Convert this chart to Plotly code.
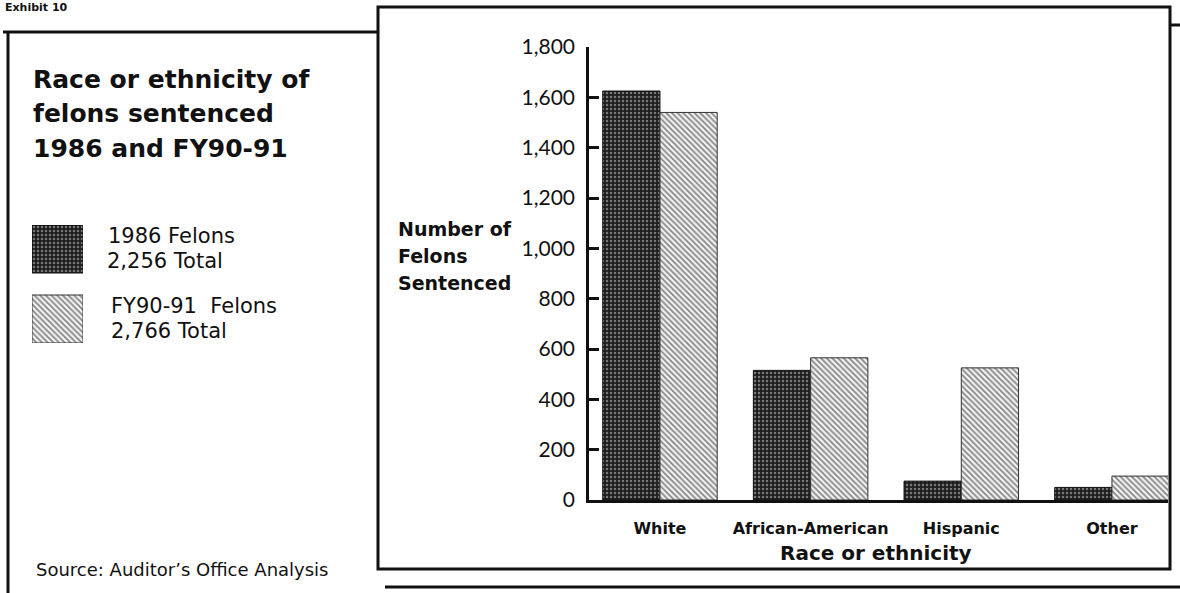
import plotly.graph_objects as go

# ---- data ----
categories = ["White", "African-American", "Hispanic", "Other"]
felons_1986 = [1625, 515, 75, 50]
felons_fy9091 = [1540, 565, 525, 95]
series_names = ["1986 Felons", "FY90-91 Felons"]
series_totals = ["2,256 Total", "2,766 Total"]
y_ticks = [0, 200, 400, 600, 800, 1000, 1200, 1400, 1600, 1800]
y_tick_labels = ["0", "200", "400", "600", "800", "1,000", "1,200", "1,400", "1,600", "1,800"]

# ---- page geometry (pixels -> paper fractions) ----
W, H = 1180, 593


def fx(px):
    return px / W


def fy(py):
    return 1 - py / H


FONT = "DejaVu Sans"
TICK_FONT = "Lato"
INK = "#111111"

# bar fills: dark dotted screen and light diagonal screen
pat_1986 = dict(shape=".", bgcolor="#1e1e1e", fgcolor="#d2d2d2", size=4, solidity=0.3)
pat_fy = dict(shape="\\", bgcolor="#f2f2f2", fgcolor="#1a1a1a", size=4, solidity=0.45)

fig = go.Figure()

fig.add_trace(go.Bar(
    x=categories, y=felons_1986, name=series_names[0],
    offset=-0.38, width=0.38,
    marker=dict(color="#1e1e1e", pattern=pat_1986, line=dict(color=INK, width=1)),
    showlegend=False, xaxis="x", yaxis="y",
))
fig.add_trace(go.Bar(
    x=categories, y=felons_fy9091, name=series_names[1],
    offset=0.0, width=0.38,
    marker=dict(color="#f2f2f2", pattern=pat_fy, line=dict(color="#333333", width=1)),
    showlegend=False, xaxis="x", yaxis="y",
))

# legend swatches in the left panel
fig.add_trace(go.Bar(
    y=[series_names[0]], x=[1], orientation="h", width=0.686,
    marker=dict(color="#1e1e1e", pattern=pat_1986, line=dict(color=INK, width=1)),
    showlegend=False, xaxis="x2", yaxis="y2", hoverinfo="skip",
))
fig.add_trace(go.Bar(
    y=[series_names[1]], x=[1], orientation="h", width=0.686,
    marker=dict(color="#f2f2f2", pattern=pat_fy, line=dict(color="#333333", width=1)),
    showlegend=False, xaxis="x2", yaxis="y2", hoverinfo="skip",
))

fig.update_layout(
    width=W, height=H,
    margin=dict(l=0, r=0, t=0, b=0),
    paper_bgcolor="white", plot_bgcolor="white",
    barmode="overlay",
    font=dict(family=FONT, color=INK),
    xaxis=dict(
        domain=[fx(589), fx(1168)], anchor="y",
        type="category", categoryorder="array", categoryarray=categories,
        range=[-0.471, 3.372],
        showline=True, linecolor=INK, linewidth=2.5,
        ticks="", showgrid=False, zeroline=False,
        tickfont=dict(family=FONT, size=16, color=INK, weight=700),
        ticklabelstandoff=12, automargin=False,
    ),
    yaxis=dict(
        domain=[fy(500), fy(47)], anchor="x",
        range=[0, 1800], tickvals=y_ticks, ticktext=y_tick_labels,
        showline=True, linecolor=INK, linewidth=2.5,
        ticks="inside", ticklen=10, tickwidth=2.5, tickcolor=INK,
        showgrid=False, zeroline=False,
        tickfont=dict(family=TICK_FONT, size=21, color=INK),
        ticklabelstandoff=7, automargin=False,
    ),
    xaxis2=dict(domain=[fx(32), fx(83)], anchor="y2", range=[0, 1],
                visible=False, fixedrange=True),
    yaxis2=dict(domain=[fy(343), fy(225)], anchor="x2", type="category",
                categoryorder="array", categoryarray=series_names,
                range=[1.343, -0.343], visible=False, fixedrange=True),
)


def label(text, px, py, size, bold=False, anchor="left"):
    fig.add_annotation(
        text=text, x=fx(px), y=fy(py), xref="paper", yref="paper",
        xanchor=anchor, yanchor="middle", showarrow=False,
        font=dict(family=FONT, size=size, color=INK, weight=700 if bold else 400),
    )


# exhibit caption at the very top
label("Exhibit 10", 3, 7, 11, bold=True)

# panel title
label("Race or ethnicity of", 31, 79, 25, bold=True)
label("felons sentenced", 31, 113, 25, bold=True)
label("1986 and FY90-91", 31, 148, 25, bold=True)

# legend texts
label(series_names[0], 106, 236, 21)
label(series_totals[0], 105, 261, 21)
label("FY90-91\u00a0 Felons", 109, 306, 21)
label(series_totals[1], 109, 331, 21)

# source note
label("Source: Auditor\u2019s Office Analysis", 34, 569, 18)

# y-axis title
label("Number of", 396, 229, 19, bold=True)
label("Felons", 396, 256, 19, bold=True)
label("Sentenced", 396, 283, 19, bold=True)

# x-axis title
label("Race or ethnicity", 876, 553, 20, bold=True, anchor="center")

# frames
line = dict(color=INK, width=3)
shapes = [
    dict(type="line", x0=fx(8), y0=fy(593), x1=fx(8), y1=fy(32), line=line),
    dict(type="line", x0=fx(3), y0=fy(32), x1=fx(378), y1=fy(32), line=line),
    dict(type="rect", x0=fx(378), y0=fy(569), x1=fx(1170), y1=fy(7), line=line),
    dict(type="line", x0=fx(1170), y0=fy(25), x1=fx(1180), y1=fy(25), line=line),
    dict(type="line", x0=fx(385), y0=fy(587), x1=fx(1180), y1=fy(587), line=line),
]
for s in shapes:
    s.update(xref="paper", yref="paper", layer="above")
fig.update_layout(shapes=shapes)

fig.write_html("out.html")
